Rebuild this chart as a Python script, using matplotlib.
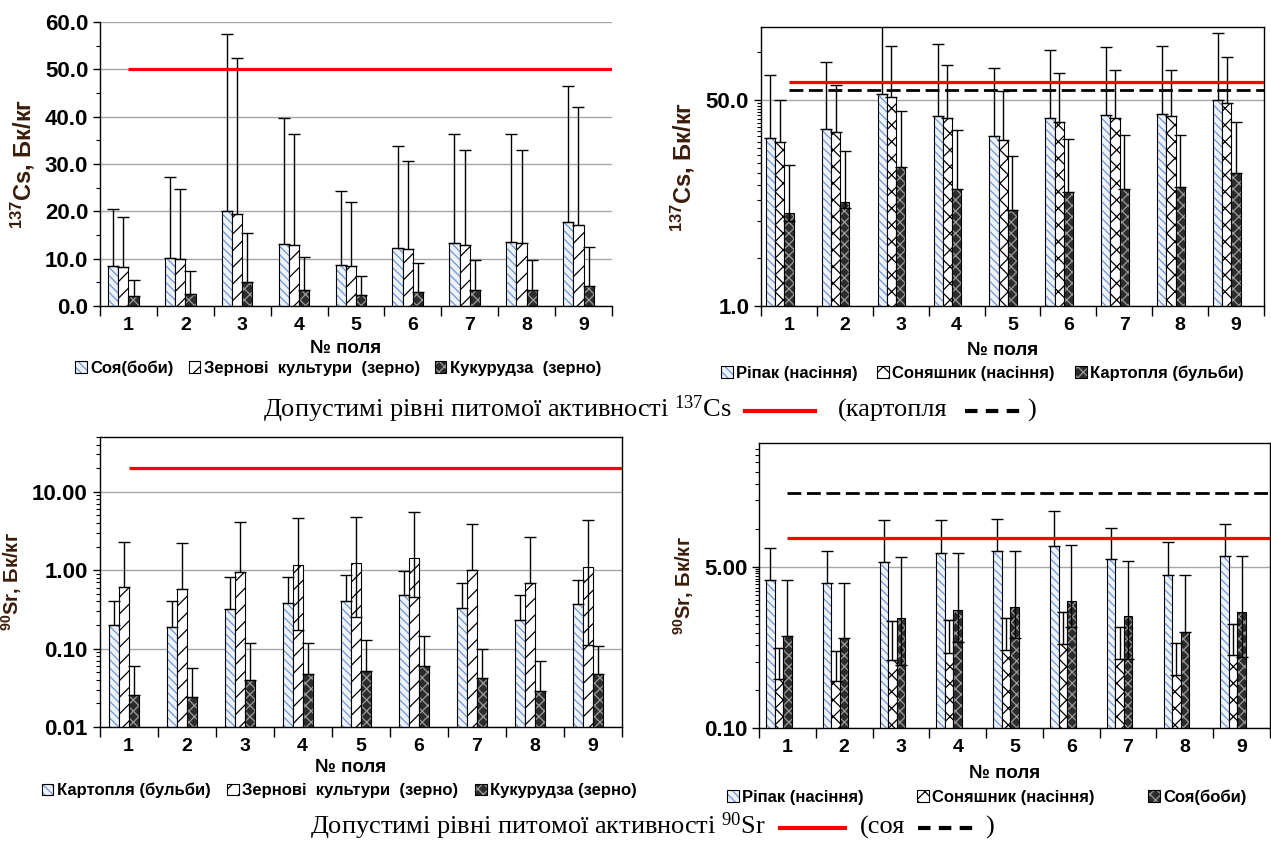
import numpy as np
import matplotlib
matplotlib.use('Agg')
import matplotlib.pyplot as plt
from matplotlib.patches import Patch
from matplotlib.lines import Line2D
from matplotlib.legend_handler import HandlerTuple

plt.rcParams['font.family'] = ['Liberation Sans', 'DejaVu Sans']
plt.rcParams['font.weight'] = 'bold'
plt.rcParams['mathtext.default'] = 'regular'
plt.rcParams['hatch.linewidth'] = 0.9

nan = np.nan
fields = ['1', '2', '3', '4', '5', '6', '7', '8', '9']

# 137Cs, лінійна шкала (верх ліворуч)
tl_soy = [8.5, 10.2, 20.0, 13.1, 8.7, 12.3, 13.3, 13.6, 17.7]
tl_soy_top = [20.6, 27.3, 57.4, 39.7, 24.2, 33.7, 36.3, 36.3, 46.4]
tl_grain = [8.2, 10.0, 19.5, 12.8, 8.5, 12.1, 12.8, 13.3, 17.2]
tl_grain_top = [18.8, 24.7, 52.3, 36.3, 21.9, 30.6, 32.9, 32.9, 42.0]
tl_corn = [2.1, 2.5, 5.1, 3.3, 2.3, 3.0, 3.3, 3.3, 4.3]
tl_corn_top = [5.6, 7.4, 15.4, 10.4, 6.4, 9.0, 9.8, 9.8, 12.4]
tl_limit = 50

# 137Cs, лог. шкала (верх праворуч)
tr_rape = [24.2, 28.7, 55.7, 36.9, 25.2, 35.5, 37.8, 38.5, 49.7]
tr_rape_top = [80, 103, 230, 146, 92, 128, 136, 139, 180]
tr_sun = [22.4, 27.1, 52.9, 35.5, 23.4, 32.9, 35.5, 36.9, 47.2]
tr_sun_top = [50, 67, 139, 97, 59, 83, 88, 88, 113]
tr_pot = [5.9, 7.2, 13.9, 9.2, 6.2, 8.7, 9.2, 9.6, 12.4]
tr_pot_top = [14.6, 19.1, 40.6, 28.3, 17.3, 23.7, 25.9, 25.9, 32.9]
tr_pot_low = [5.0, 6.4, nan, nan, nan, nan, nan, nan, nan]
tr_limit = 70
tr_limit_pot = 60

# 90Sr (низ ліворуч)
bl_pot = [0.20, 0.19, 0.32, 0.38, 0.41, 0.48, 0.33, 0.23, 0.37]
bl_pot_top = [0.41, 0.40, 0.82, 0.82, 0.86, 0.98, 0.69, 0.48, 0.74]
bl_grain = [0.61, 0.57, 0.95, 1.15, 1.24, 1.44, 1.00, 0.68, 1.10]
bl_grain_top = [2.30, 2.22, 4.16, 4.69, 4.82, 5.59, 3.85, 2.67, 4.34]
bl_grain_low = [nan, nan, nan, 0.175, 0.25, 0.45, nan, nan, 0.11]
bl_corn = [0.0255, 0.0243, 0.040, 0.048, 0.052, 0.0605, 0.042, 0.0287, 0.047]
bl_corn_top = [0.060, 0.056, 0.117, 0.117, 0.127, 0.145, 0.100, 0.070, 0.108]
bl_limit = 20

# 90Sr (низ праворуч)
br_rape = [3.59, 3.39, 5.6, 6.9, 7.3, 8.3, 6.0, 4.05, 6.5]
br_rape_top = [7.8, 7.3, 15.5, 15.5, 15.9, 19.3, 12.9, 9.0, 14.1]
br_sun = [0.69, 0.65, 1.33, 1.37, 1.43, 1.65, 1.15, 0.78, 1.26]
br_sun_low = [0.33, 0.31, 0.52, 0.62, 0.67, 0.76, 0.53, 0.36, 0.59]
br_soy = [0.93, 0.88, 1.43, 1.75, 1.86, 2.15, 1.51, 1.02, 1.65]
br_soy_top = [3.59, 3.39, 6.3, 6.9, 7.3, 8.5, 5.8, 4.05, 6.5]
br_soy_low = [nan, nan, 0.46, 0.81, 0.88, 1.16, 0.53, nan, 0.56]
br_limit = 10
br_limit_soy = 30

# стилі заливки: (фон, колір штриховки, штриховка)
BLUE = ('#eef3fb', '#6f97d3', '\\\\\\\\')
DIAG = ('white', 'black', '//')
ZIG = ('white', 'black', 'xx')
DARK = ('#2c2c2c', '#9a9a9a', 'xxx')

RED = '#ff0000'
GRID = '#a6a6a6'
YLAB = '#3a1c0a'


def draw_panel(ax, series, width, nslots, gap_series=None):
    x = np.arange(1, len(fields) + 1)
    handles = []
    for i, (vals, top, low, style, label) in enumerate(series):
        vals = np.array(vals, dtype=float)
        xi = x + (i - (nslots - 1) / 2) * width
        fc, hc, hatch = style
        ax.bar(xi, vals, width, color=fc, edgecolor=hc, hatch=hatch, linewidth=0, zorder=2)
        ax.bar(xi, vals, width, fill=False, edgecolor='black', linewidth=0.8, zorder=2)
        if low is not None:
            low = np.array(low, dtype=float)
            lo_err = np.where(np.isnan(low), 0, vals - low)
            if gap_series == i:
                ax.bar(xi, vals - low, width, bottom=low, color='white',
                       edgecolor='black', linewidth=0.8, zorder=2)
        else:
            lo_err = np.zeros_like(vals)
        up_err = np.zeros_like(vals) if top is None else np.array(top) - vals
        ax.errorbar(xi, vals, yerr=[lo_err, up_err], fmt='none', ecolor='black',
                    elinewidth=1, capsize=4, capthick=1, zorder=2.5)
        handles.append(((Patch(facecolor=fc, edgecolor=hc, hatch=hatch, linewidth=0),
                         Patch(fill=False, edgecolor='black', linewidth=0.8)), label))
    ax.set_xlim(0.5, len(fields) + 0.5)
    ax.set_xticks(x)
    ax.set_xticklabels(fields, fontsize=14, fontweight='bold')
    ax.set_xticks(np.arange(0.5, len(fields) + 1, 1), minor=True)
    ax.tick_params(axis='x', which='major', length=0, pad=8)
    ax.tick_params(axis='x', which='minor', length=7, direction='out', width=1)
    ax.tick_params(axis='y', which='major', length=5, direction='out', width=1, labelsize=16)
    ax.tick_params(axis='y', which='minor', length=3, direction='out', width=0.8)
    ax.yaxis.grid(True, which='major', color=GRID, linewidth=1)
    ax.set_axisbelow(True)
    for sp in ax.spines.values():
        sp.set_linewidth(1)
    return handles


def finish(ax, handles, ylabel, ysize, xlab_y, leg_x, leg_y, colsp):
    ax.set_ylabel(ylabel, fontsize=ysize, fontweight='bold', color=YLAB, labelpad=6)
    ax.text(0.48, xlab_y, '№ поля', transform=ax.transAxes, ha='center', va='center',
            fontsize=13.5, fontweight='bold')
    ax.legend([h for h, _ in handles], [l for _, l in handles],
              handler_map={tuple: HandlerTuple(ndivide=1)},
              loc='center', bbox_to_anchor=(leg_x, leg_y), ncol=3, frameon=False,
              fontsize=12, handlelength=0.7, handleheight=0.7, handletextpad=0.2,
              columnspacing=colsp, borderaxespad=0)


def limit_line(ax, y, dashed=False):
    if dashed:
        ax.hlines(y, 1, ax.get_xlim()[1], colors='black', linewidth=2,
                  linestyles=(0, (5, 2)), zorder=3)
    else:
        ax.hlines(y, 1, ax.get_xlim()[1], colors=RED, linewidth=2.3, zorder=3)


fig = plt.figure(figsize=(12.71, 8.43), dpi=100)

# --- верх ліворуч
ax1 = fig.add_axes([0.0787, 0.637, 0.4028, 0.3369])
h = draw_panel(ax1, [(tl_soy, tl_soy_top, None, BLUE, 'Соя(боби)'),
                     (tl_grain, tl_grain_top, None, DIAG, 'Зернові  культури  (зерно)'),
                     (tl_corn, tl_corn_top, None, DARK, 'Кукурудза  (зерно)')],
               width=0.18, nslots=4)
ax1.set_ylim(0, 60)
ax1.set_yticks(np.arange(0, 61, 10))
ax1.set_yticks(np.arange(5, 60, 10), minor=True)
ax1.yaxis.set_major_formatter(matplotlib.ticker.FormatStrFormatter('%.1f'))
ax1.spines['top'].set_visible(False)
ax1.spines['right'].set_visible(False)
limit_line(ax1, tl_limit)
finish(ax1, h, r'$^{137}$Cs, Бк/кг', 17, -0.148, 0.465, -0.218, 0.9)

# --- верх праворуч
ax2 = fig.add_axes([0.5987, 0.637, 0.3958, 0.331])
ax2.set_yscale('log')
h = draw_panel(ax2, [(tr_rape, tr_rape_top, None, BLUE, 'Ріпак (насіння)'),
                     (tr_sun, tr_sun_top, None, ZIG, 'Соняшник (насіння)'),
                     (tr_pot, tr_pot_top, tr_pot_low, DARK, 'Картопля (бульби)')],
               width=0.165, nslots=5)
ax2.set_ylim(1, 200)
ax2.set_yticks([1, 50])
ax2.set_yticklabels(['1.0', '50.0'])
ax2.set_yticks(list(np.arange(2.5, 50, 2.5)) + [125], minor=True)
ax2.yaxis.set_minor_formatter(matplotlib.ticker.NullFormatter())
limit_line(ax2, tr_limit)
limit_line(ax2, tr_limit_pot, dashed=True)
finish(ax2, h, r'$^{137}$Cs, Бк/кг', 17, -0.16, 0.44, -0.24, 1.2)

# --- низ ліворуч
ax3 = fig.add_axes([0.0784, 0.1376, 0.4107, 0.344])
ax3.set_yscale('log')
h = draw_panel(ax3, [(bl_pot, bl_pot_top, None, BLUE, 'Картопля (бульби)'),
                     (bl_grain, bl_grain_top, bl_grain_low, DIAG, 'Зернові  культури  (зерно)'),
                     (bl_corn, bl_corn_top, None, DARK, 'Кукурудза (зерно)')],
               width=0.17, nslots=4)
ax3.set_ylim(0.01, 50)
ax3.set_yticks([0.01, 0.1, 1, 10])
ax3.set_yticklabels(['0.01', '0.10', '1.00', '10.00'])
ax3.yaxis.set_minor_locator(matplotlib.ticker.LogLocator(base=10, subs=np.arange(2, 10)))
ax3.yaxis.set_minor_formatter(matplotlib.ticker.NullFormatter())
limit_line(ax3, bl_limit)
finish(ax3, h, r'$^{90}$Sr, Бк/кг', 14.5, -0.14, 0.459, -0.219, 1.0)

# --- низ праворуч
ax4 = fig.add_axes([0.5972, 0.1364, 0.402, 0.338])
ax4.set_yscale('log')
h = draw_panel(ax4, [(br_rape, br_rape_top, None, BLUE, 'Ріпак (насіння)'),
                     (br_sun, None, br_sun_low, ZIG, 'Соняшник (насіння)'),
                     (br_soy, br_soy_top, br_soy_low, DARK, 'Соя(боби)')],
               width=0.15, nslots=5, gap_series=1)
ax4.set_ylim(0.1, 100)
ax4.set_yticks([0.1, 5])
ax4.set_yticklabels(['0.10', '5.00'])
ax4.set_yticks(list(np.arange(0.25, 5, 0.25)) + list(np.arange(12.5, 100, 12.5)), minor=True)
ax4.yaxis.set_minor_formatter(matplotlib.ticker.NullFormatter())
limit_line(ax4, br_limit)
limit_line(ax4, br_limit_soy, dashed=True)
finish(ax4, h, r'$^{90}$Sr, Бк/кг', 14.5, -0.16, 0.446, -0.242, 3.2)

# --- підписи з допустимими рівнями
W, H = fig.bbox.width, fig.bbox.height
SERIF = ['Liberation Serif', 'DejaVu Serif']


def caption(base_px, parts):
    y = (H - base_px) / H
    for kind, x0, x1, val in parts:
        if kind == 'text':
            fig.text(x0 / W, y, val, ha='left', va='baseline', family=SERIF,
                     fontsize=19, fontweight='normal')
        else:
            yl = y + 6 / H
            if kind == 'red':
                ln = Line2D([x0 / W, x1 / W], [yl, yl], color=RED, linewidth=3,
                            transform=fig.transFigure)
            else:
                ln = Line2D([x0 / W, x1 / W], [yl, yl], color='black', linewidth=3,
                            linestyle=(0, (3, 2)), transform=fig.transFigure)
            fig.add_artist(ln)


caption(417, [('text', 263, None, 'Допустимі рівні питомої активності $^{137}$Cs'),
              ('red', 745, 815, None),
              ('text', 838, None, '(картопля'),
              ('dash', 965, 1022, None),
              ('text', 1027, None, ')')])
caption(834, [('text', 310, None, 'Допустимі рівні питомої активності $^{90}$Sr'),
              ('red', 780, 845, None),
              ('text', 860, None, '(соя'),
              ('dash', 918, 978, None),
              ('text', 985, None, ')')])

fig.savefig('out.png', dpi=100)
